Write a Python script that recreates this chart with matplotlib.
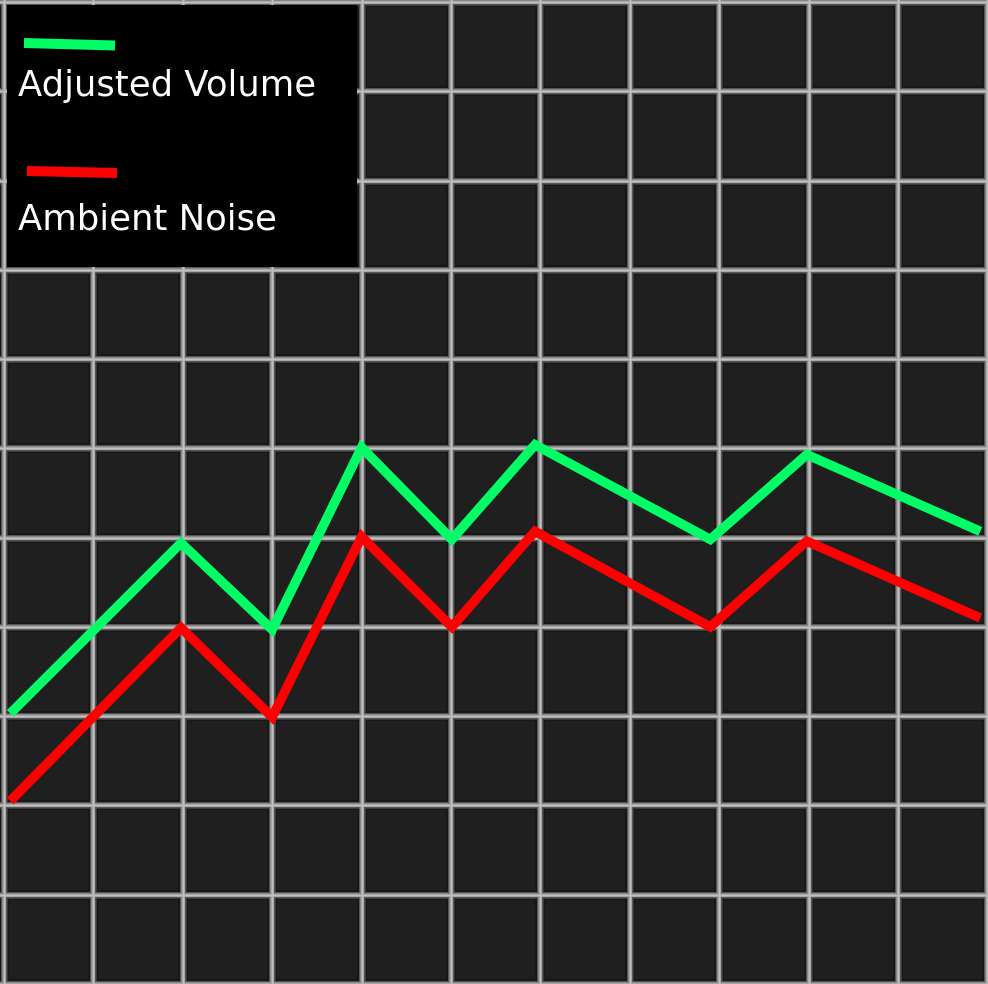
import matplotlib
matplotlib.use("Agg")
import matplotlib.pyplot as plt
from matplotlib.patches import Rectangle
from matplotlib.lines import Line2D

# ---- data ----
series_names = ["Adjusted Volume", "Ambient Noise"]
x_values = [0.07, 1.98, 3.0, 4.0, 5.01, 5.94, 7.9, 8.98, 10.92]
adjusted_volume = [3.03, 4.94, 3.97, 6.01, 4.98, 6.04, 4.98, 5.93, 5.07]
ambient_noise = [2.05, 3.99, 2.99, 5.01, 4.00, 5.07, 4.00, 4.96, 4.10]
series_colors = ["#00ff66", "#ff0000"]

W, H, DPI = 988, 984, 100
fig = plt.figure(figsize=(W / DPI, H / DPI), dpi=DPI)
fig.patch.set_facecolor("#1f1f1f")
ax = fig.add_axes([0, 0, 1, 1])
ax.set_facecolor("#1f1f1f")
ax.set_xlim(-0.0447, 11.007)
ax.set_ylim(0.0, 11.022)
for s in ax.spines.values():
    s.set_visible(False)
ax.set_xticks([])
ax.set_yticks([])

px = 72.0 / DPI
# blurred grid, layered
layers = [("#171717", 10 * px), ("#3a3a3a", 7 * px), ("#5e5e5e", 5.5 * px),
          ("#868686", 4 * px), ("#a6a6a6", 2.8 * px), ("#c0c0c0", 1.4 * px)]
for color, lw in layers:
    for k in range(0, 12):
        ax.axvline(k, color=color, lw=lw, zorder=1)
        ax.axhline(k, color=color, lw=lw, zorder=1)

lw_line = 9.5 * px
for vals, col in zip([adjusted_volume, ambient_noise], series_colors):
    ax.plot(x_values, vals, color=col, lw=lw_line, solid_joinstyle="miter",
            solid_capstyle="butt", zorder=3)

# ---- legend (manual) ----
def fx(p):
    return p / W

def fy(p):
    return 1 - p / H

fig.patches.append(Rectangle((fx(7), fy(267)), fx(350), 262 / H, facecolor="black",
                             edgecolor="none", transform=fig.transFigure, zorder=5))
handle_coords = [((24, 43), (115, 45.5)), ((27, 171), (117, 173))]
text_baselines = [96, 229]
for name, col, (p0, p1), tb in zip(series_names, series_colors, handle_coords, text_baselines):
    fig.lines.append(Line2D([fx(p0[0]), fx(p1[0])], [fy(p0[1]), fy(p1[1])], color=col,
                            lw=10 * px, solid_capstyle="butt", transform=fig.transFigure, zorder=6))
    fig.text(fx(18), fy(tb), name, color="white", fontsize=25.5, family="DejaVu Sans",
             va="baseline", ha="left", zorder=7)

fig.savefig("out.png", dpi=DPI, facecolor=fig.get_facecolor())
